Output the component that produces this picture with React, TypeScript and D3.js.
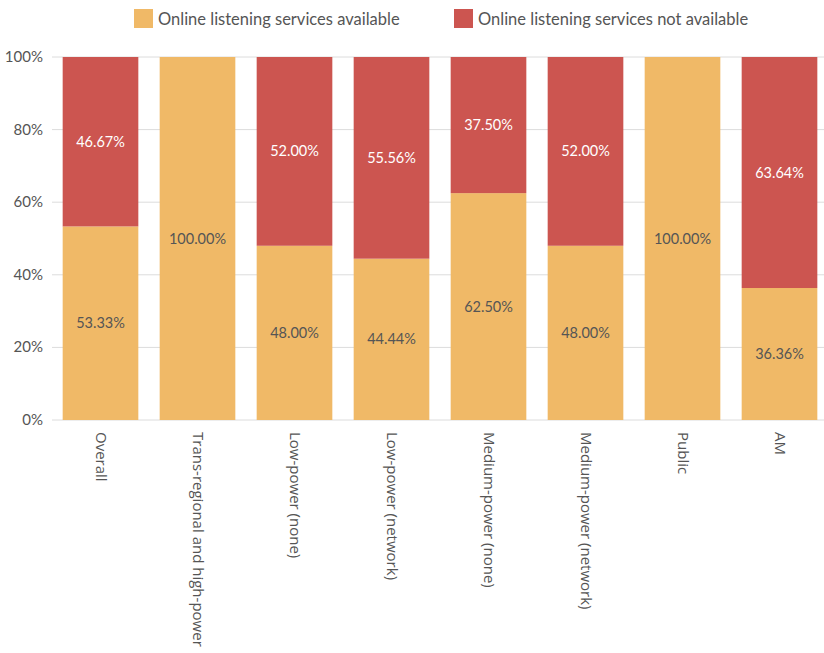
import React from "react";
import * as d3 from "d3";

const categories = [
  "Overall",
  "Trans-regional and high-power",
  "Low-power (none)",
  "Low-power (network)",
  "Medium-power (none)",
  "Medium-power (network)",
  "Public",
  "AM",
];
const available = [53.33, 100, 48.0, 44.44, 62.5, 48.0, 100, 36.36];
const notAvailable = [46.67, 0, 52.0, 55.56, 37.5, 52.0, 0, 63.64];
const yTicks = [0, 20, 40, 60, 80, 100];
const seriesNames = ["Online listening services available", "Online listening services not available"];
const colors = ["#F0B967", "#CC5550"];

export default function App() {
  const width = 824;
  const height = 653;
  const left = 52;
  const right = 828;
  const top = 57;
  const bottom = 420;
  const font = "Lato, 'Open Sans', sans-serif";
  const catFont = "'Open Sans', Roboto, sans-serif";

  const x = d3.scaleBand<string>().domain(categories).range([left, right]).paddingInner(0.22).paddingOuter(0.11);
  const y = d3.scaleLinear().domain([0, 100]).range([bottom, top]);

  return (
    <svg width={width} height={height} style={{ position: "absolute", left: 0, top: 0 }} fontFamily={font}>
      {/* legend */}
      <g>
        <rect x={134} y={9} width={19} height={19} fill={colors[0]} />
        <text x={158} y={24.5} fontSize={16.5} fill="#555">{seriesNames[0]}</text>
        <rect x={454} y={9} width={19} height={19} fill={colors[1]} />
        <text x={478} y={24.5} fontSize={16.5} fill="#555">{seriesNames[1]}</text>
      </g>
      {/* grid */}
      {yTicks.map((t) => (
        <g key={t}>
          <line x1={left} x2={width} y1={y(t)} y2={y(t)} stroke="#dcdcdc" strokeWidth={1} />
          <text x={43} y={y(t) + 5} textAnchor="end" fontSize={15} fill="#555">{t}%</text>
        </g>
      ))}
      {/* bars */}
      {categories.map((c, i) => {
        const x0 = x(c)!;
        const bw = x.bandwidth();
        const a = available[i];
        const n = notAvailable[i];
        const cx = x0 + bw / 2;
        return (
          <g key={c}>
            <rect x={x0} y={y(a)} width={bw} height={y(0) - y(a)} fill={colors[0]} />
            {n > 0 && <rect x={x0} y={y(a + n)} width={bw} height={y(a) - y(a + n)} fill={colors[1]} />}
            <text x={cx} y={(y(0) + y(a)) / 2 + 5} textAnchor="middle" fontSize={14.5} fill="#555">{a.toFixed(2)}%</text>
            {n > 0 && (
              <text x={cx} y={(y(a) + y(a + n)) / 2 + 5} textAnchor="middle" fontSize={14.5} fill="#fff">{n.toFixed(2)}%</text>
            )}
            <text
              transform={`translate(${cx - 5},${bottom + 12}) rotate(90)`}
              fontSize={15}
              fontFamily={catFont}
              fill="#555"
              textAnchor="start"
            >
              {c}
            </text>
          </g>
        );
      })}
    </svg>
  );
}
